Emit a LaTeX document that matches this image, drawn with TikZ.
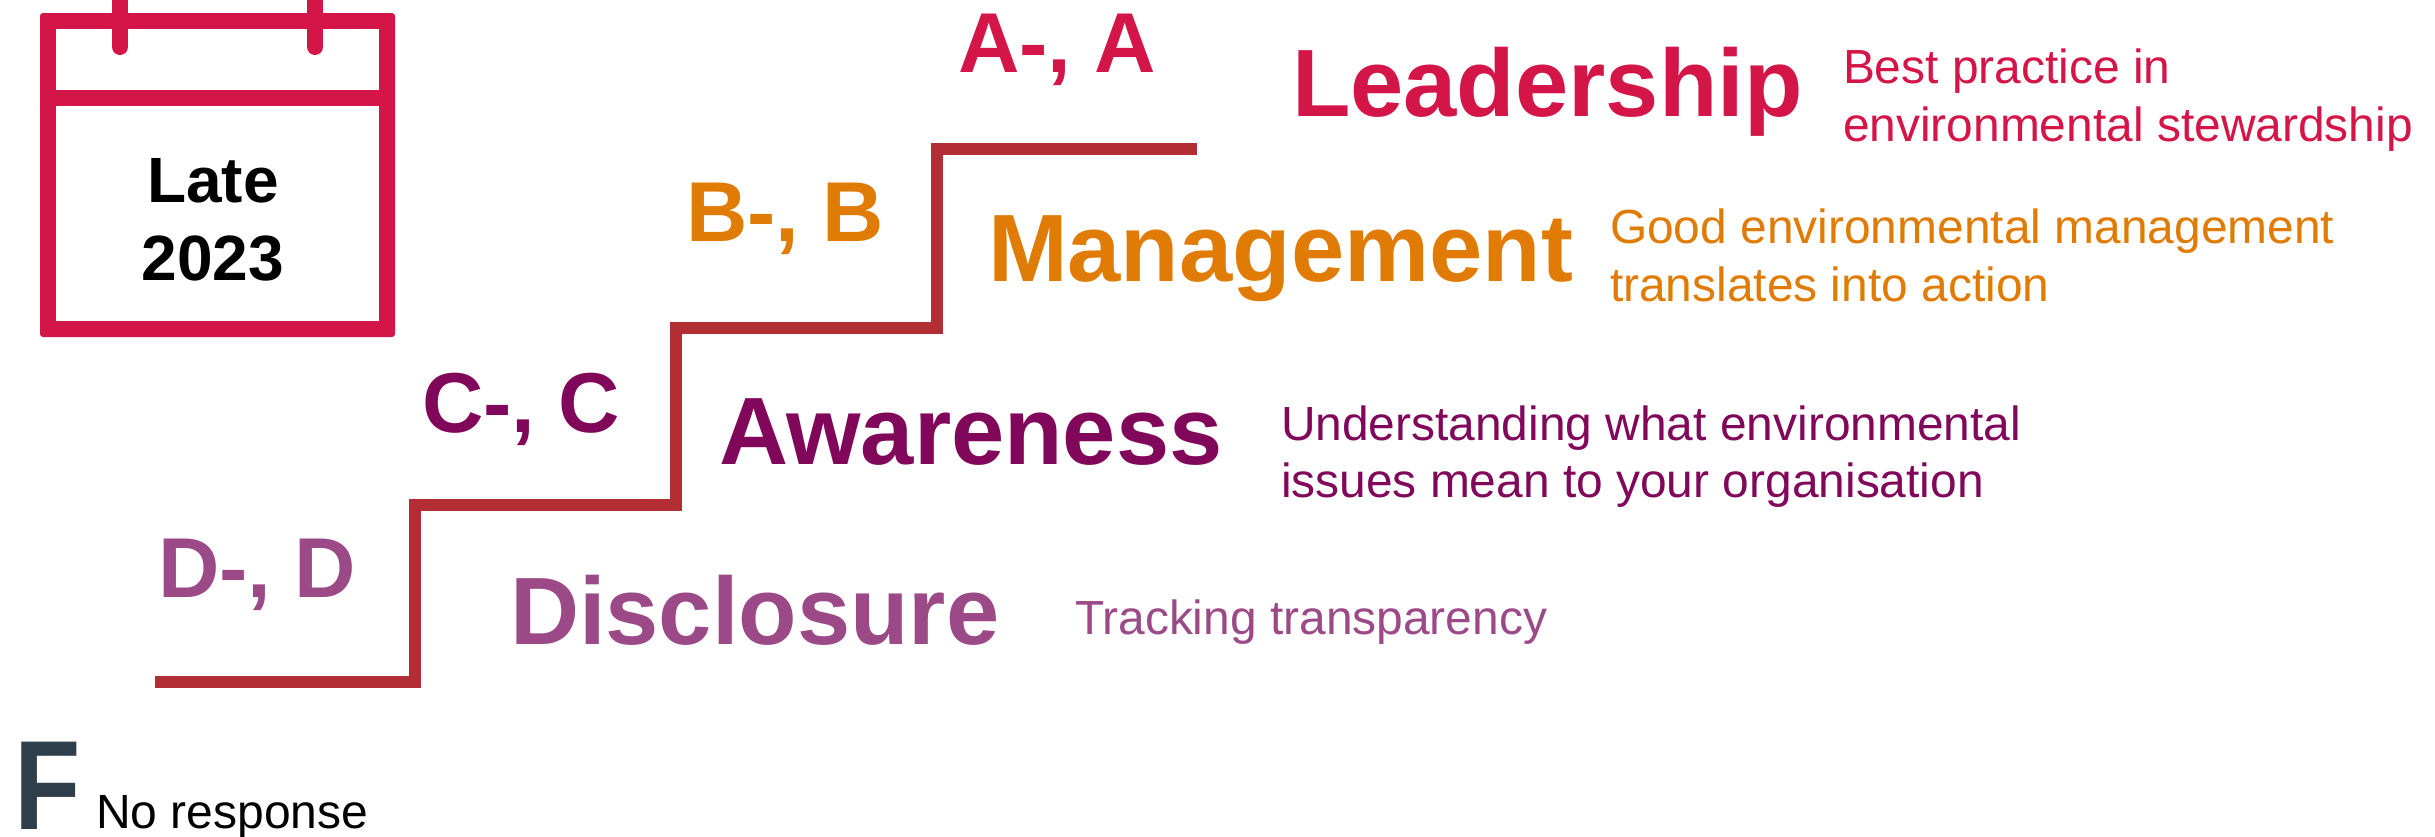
\documentclass[tikz,border=0pt]{standalone}
\usepackage{fontspec}
\setmainfont{Liberation Sans}
\definecolor{cLead}{HTML}{D31548}
\definecolor{cMan}{HTML}{E07C05}
\definecolor{cAwa}{HTML}{80075A}
\definecolor{cDis}{HTML}{9C4A87}
\definecolor{cF}{HTML}{2E3E4A}
\definecolor{cStair}{HTML}{B32D35}
\newcommand{\fsz}[1]{\fontsize{#1}{#1}\selectfont}
\tikzset{
  txt/.style={inner sep=0pt,outer sep=0pt,anchor=base west},
  grade/.style={txt,font=\fsz{85}\bfseries},
  head/.style={txt,font=\fsz{95.7}\bfseries},
  desc/.style={txt,align=left,font=\fontsize{47.9}{57.5}\selectfont},
  stair/.style={draw=cStair,line width=12pt,line join=miter},
  cal/.style={draw=cLead,line width=16pt},
}
\begin{document}
\begin{tikzpicture}[x=1pt,y=-1pt]
\useasboundingbox (0,0) rectangle (2435,836);
% calendar
\fill[cLead,rounded corners=3pt] (40,13) rectangle (395,337);
\fill[white] (56,29) rectangle (379,321);
\draw[cal] (48,98) -- (387,98);
\draw[cal,line cap=round] (120,-10) -- (120,47);
\draw[cal,line cap=round] (315,-10) -- (315,47);
\node[inner sep=0pt,align=center,font=\fontsize{64}{78}\selectfont\bfseries] (late) at (213,220) {Late\\2023};
% stairs
\coordinate (s0) at (155,682);
\coordinate (s1) at (415,682);
\coordinate (s2) at (415,505);
\coordinate (s3) at (676,505);
\coordinate (s4) at (676,328);
\coordinate (s5) at (937,328);
\coordinate (s6) at (937,149);
\coordinate (s7) at (1197,149);
\draw[stair] (s0)--(s1)--(s2)--(s3)--(s4)--(s5)--(s6)--(s7);
% grades
\node[grade,text=cLead] (ga) at (958,72) {A-, A};
\node[grade,text=cMan] (gb) at (686,241) {B-, B};
\node[grade,text=cAwa] (gc) at (422,432) {C-, C};
\node[grade,text=cDis] (gd) at (158,597) {D-, D};
% headings
\node[head,text=cLead] (hl) at (1292,116) {Leadership};
\node[head,text=cMan] (hm) at (988,281) {Management};
\node[head,text=cAwa] (ha) at (719,464) {Awareness};
\node[head,text=cDis] (hd) at (510,644) {Disclosure};
% descriptions
\node[desc,text=cLead] (dl1) at (1843,83) {Best practice in};
\node[desc,text=cLead] (dl2) at (1843,141) {environmental stewardship};
\node[desc,text=cMan] (dm1) at (1610,243) {Good environmental management};
\node[desc,text=cMan] (dm2) at (1610,301) {translates into action};
\node[desc,text=cAwa] (da1) at (1281,440) {Understanding what environmental};
\node[desc,text=cAwa] (da2) at (1281,497) {issues mean to your organisation};
\node[desc,text=cDis] (dd) at (1075,634) {Tracking transparency};
% F
\node[txt,text=cF,font=\fsz{127}\bfseries,xscale=.855] (f) at (14,829) {F};
\node[txt,font=\fsz{48}] (nr) at (96,828) {No response};
\end{tikzpicture}
\end{document}
